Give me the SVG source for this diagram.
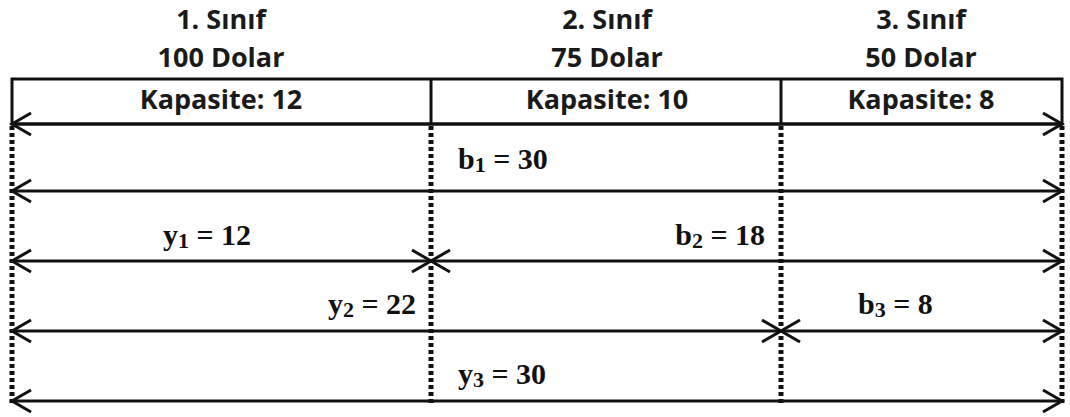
<svg xmlns="http://www.w3.org/2000/svg" width="1070" height="417" viewBox="0 0 1070 417">
<style>
.hdr{font-family:"Open Sans","Liberation Sans",sans-serif;font-weight:bold;font-size:27px;fill:#1a1a1a;text-anchor:middle}
.lbl{font-family:"Liberation Serif","Times New Roman",serif;font-weight:bold;font-size:30px;fill:#111}
.sub{font-size:22px}
.dot{stroke:#111;stroke-width:5;stroke-dasharray:4 3;fill:none}
.arr{stroke:#111;stroke-width:3;fill:none;marker-start:url(#head);marker-end:url(#head)}
.box{stroke:#111;stroke-width:3;fill:#fff}
</style>
<defs>
<marker id="head" viewBox="-22 -14 26 28" markerWidth="26" markerHeight="28" refX="0" refY="0" markerUnits="userSpaceOnUse" orient="auto-start-reverse">
<path d="M-19,-11 L0,0 L-19,11" fill="none" stroke="#111" stroke-width="3"/>
</marker>
</defs>
<rect width="1070" height="417" fill="#fff"/>
<g id="header">
<rect class="box" x="12" y="79" width="1050" height="45"/>
<line x1="431" y1="79" x2="431" y2="124" stroke="#111" stroke-width="3"/>
<line x1="781" y1="79" x2="781" y2="124" stroke="#111" stroke-width="3"/>
</g>
<g id="class1">
<text class="hdr" x="221" y="29">1. Sınıf</text>
<text class="hdr" x="221" y="67">100 Dolar</text>
<text class="hdr" x="221" y="109">Kapasite: 12</text>
</g>
<g id="class2">
<text class="hdr" x="607" y="29">2. Sınıf</text>
<text class="hdr" x="607" y="67">75 Dolar</text>
<text class="hdr" x="607" y="109">Kapasite: 10</text>
</g>
<g id="class3">
<text class="hdr" x="921" y="29">3. Sınıf</text>
<text class="hdr" x="921" y="67">50 Dolar</text>
<text class="hdr" x="921" y="109">Kapasite: 8</text>
</g>
<g id="dividers">
<line class="dot" x1="12" y1="126" x2="12" y2="406"/>
<line class="dot" x1="431" y1="126" x2="431" y2="406"/>
<line class="dot" x1="781" y1="126" x2="781" y2="406"/>
<line class="dot" x1="1062" y1="126" x2="1062" y2="406"/>
</g>
<g id="connectors">
<line class="arr" x1="12" y1="124" x2="1062" y2="124"/>
<line class="arr" x1="12" y1="191" x2="1062" y2="191"/>
<line class="arr" x1="12" y1="261" x2="431" y2="261"/>
<line class="arr" x1="431" y1="261" x2="1062" y2="261"/>
<line class="arr" x1="12" y1="331" x2="781" y2="331"/>
<line class="arr" x1="781" y1="331" x2="1062" y2="331"/>
<line class="arr" x1="12" y1="401" x2="1062" y2="401"/>
</g>
<g id="labels">
<text class="lbl" x="458" y="169">b<tspan class="sub" dy="3">1</tspan><tspan dy="-3"> = 30</tspan></text>
<text class="lbl" x="163" y="245">y<tspan class="sub" dy="3">1</tspan><tspan dy="-3"> = 12</tspan></text>
<text class="lbl" x="765" y="245" text-anchor="end">b<tspan class="sub" dy="3">2</tspan><tspan dy="-3"> = 18</tspan></text>
<text class="lbl" x="416" y="314" text-anchor="end">y<tspan class="sub" dy="3">2</tspan><tspan dy="-3"> = 22</tspan></text>
<text class="lbl" x="858" y="314">b<tspan class="sub" dy="3">3</tspan><tspan dy="-3"> = 8</tspan></text>
<text class="lbl" x="458" y="384">y<tspan class="sub" dy="3">3</tspan><tspan dy="-3"> = 30</tspan></text>
</g>
</svg>
